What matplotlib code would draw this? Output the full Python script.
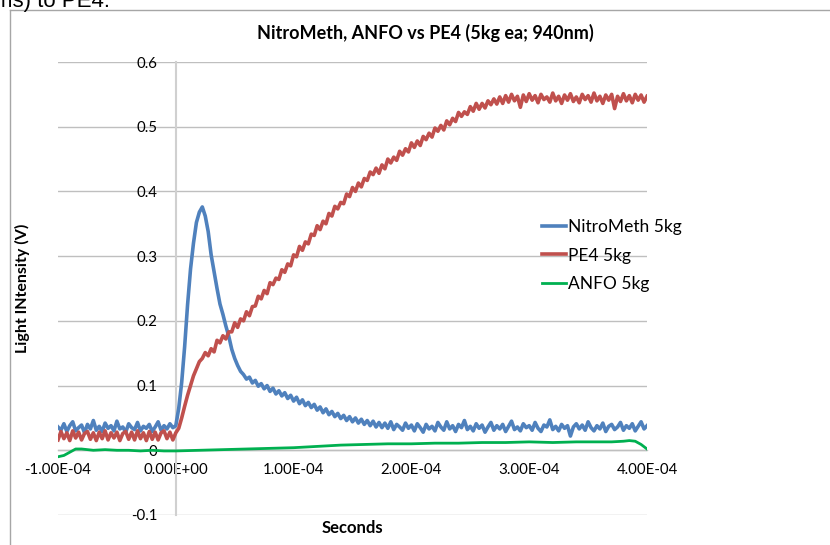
import numpy as np
import matplotlib
matplotlib.use('Agg')
import matplotlib.pyplot as plt
from matplotlib.lines import Line2D
from matplotlib.ticker import FuncFormatter

plt.rcParams['font.family'] = ['Lato', 'DejaVu Sans']

# sample grid of the two fast traces (2.5 us steps)
t_fast = np.linspace(-1e-4, 4e-4, 201)

nitro = [
    0.036, 0.031, 0.041, 0.029, 0.038, 0.044, 0.030, 0.035, 0.039, 0.027,
    0.040, 0.033, 0.046, 0.031, 0.037, 0.029, 0.042, 0.034, 0.038, 0.030,
    0.045, 0.033, 0.036, 0.028, 0.041, 0.035, 0.032, 0.043, 0.030, 0.037,
    0.034, 0.040, 0.029, 0.036, 0.044, 0.031, 0.038, 0.033, 0.041, 0.035,
    0.038,
    0.065, 0.105, 0.160, 0.225, 0.280, 0.320, 0.352, 0.368, 0.376,
    0.362, 0.338, 0.302, 0.276, 0.250, 0.226, 0.210, 0.192, 0.176, 0.156,
    0.142, 0.131, 0.122, 0.117, 0.110, 0.113, 0.104, 0.108, 0.099, 0.103,
    0.095, 0.100, 0.091, 0.096, 0.087, 0.092, 0.084, 0.089, 0.080, 0.085,
    0.076, 0.082, 0.072, 0.078, 0.069, 0.074, 0.066, 0.071, 0.062, 0.067,
    0.058, 0.064, 0.055, 0.060, 0.052, 0.057, 0.049, 0.054, 0.046, 0.052,
    0.044, 0.050, 0.042, 0.048, 0.040, 0.046, 0.038, 0.045, 0.036, 0.043,
    0.035, 0.042, 0.034, 0.044, 0.032, 0.040, 0.036, 0.031, 0.042, 0.034,
    0.039, 0.030, 0.041, 0.035, 0.028, 0.040, 0.033, 0.037, 0.030, 0.043,
    0.036, 0.031, 0.044, 0.033, 0.038, 0.029, 0.040, 0.035, 0.046, 0.032,
    0.037, 0.030, 0.041, 0.034, 0.039, 0.028, 0.036, 0.043, 0.031, 0.038,
    0.033, 0.040, 0.029, 0.037, 0.045, 0.032, 0.036, 0.030, 0.041, 0.035,
    0.038, 0.031, 0.043, 0.034, 0.029, 0.039, 0.036, 0.047, 0.032, 0.037,
    0.030, 0.040, 0.034, 0.038, 0.022, 0.036, 0.041, 0.033, 0.039, 0.031,
    0.044, 0.035, 0.030, 0.038, 0.033, 0.042, 0.029, 0.037, 0.040, 0.032,
    0.036, 0.043, 0.031, 0.038, 0.034, 0.041, 0.030, 0.037, 0.044, 0.033,
    0.038,
]

pe4 = [
    0.016, 0.029, 0.018, 0.027, 0.015, 0.030, 0.019, 0.028, 0.016, 0.026,
    0.029, 0.017, 0.027, 0.015, 0.028, 0.018, 0.030, 0.016, 0.027, 0.019,
    0.028, 0.015, 0.026, 0.029, 0.017, 0.028, 0.016, 0.030, 0.018, 0.027,
    0.015, 0.029, 0.017, 0.028, 0.016, 0.027, 0.030, 0.018, 0.028, 0.016,
    0.027,
    0.034, 0.050, 0.068, 0.085, 0.100, 0.115, 0.126, 0.137, 0.142,
    0.151, 0.146, 0.157, 0.152, 0.170, 0.166, 0.177, 0.172, 0.183, 0.183,
    0.197, 0.190, 0.203, 0.200, 0.214, 0.208, 0.222, 0.223, 0.238, 0.234,
    0.247, 0.242, 0.259, 0.256, 0.266, 0.264, 0.279, 0.275, 0.288, 0.285,
    0.302, 0.299, 0.315, 0.309, 0.322, 0.319, 0.334, 0.332, 0.347, 0.341,
    0.354, 0.350, 0.366, 0.362, 0.377, 0.373, 0.383, 0.381, 0.396, 0.392,
    0.406, 0.400, 0.413, 0.407, 0.420, 0.417, 0.430, 0.426, 0.436, 0.428,
    0.441, 0.435, 0.450, 0.444, 0.453, 0.448, 0.462, 0.456, 0.466, 0.461,
    0.475, 0.468, 0.478, 0.471, 0.485, 0.480, 0.490, 0.484, 0.498, 0.493,
    0.502, 0.495, 0.509, 0.503, 0.513, 0.508, 0.522, 0.516, 0.523, 0.519,
    0.531, 0.524, 0.536, 0.527, 0.536, 0.529, 0.540, 0.534, 0.543, 0.535,
    0.546, 0.536, 0.548, 0.538, 0.550, 0.540, 0.547, 0.530, 0.549, 0.539,
    0.551, 0.541, 0.548, 0.537, 0.550, 0.542, 0.546, 0.538, 0.552, 0.540,
    0.547, 0.536, 0.549, 0.541, 0.551, 0.539, 0.546, 0.537, 0.550, 0.542,
    0.548, 0.538, 0.552, 0.540, 0.547, 0.536, 0.549, 0.541, 0.550, 0.528,
    0.547, 0.539, 0.551, 0.540, 0.548, 0.537, 0.550, 0.541, 0.549, 0.538,
    0.547,
]

# ANFO is smooth, sparser samples
t_anfo = [-1.0e-4, -9.5e-5, -9.0e-5, -8.5e-5, -8.0e-5, -7.0e-5, -6.0e-5, -5.0e-5,
          -4.0e-5, -3.0e-5, -2.0e-5, -1.0e-5, 0.0, 2.0e-5, 4.0e-5, 6.0e-5, 8.0e-5,
          1.0e-4, 1.2e-4, 1.4e-4, 1.6e-4, 1.8e-4, 2.0e-4, 2.2e-4, 2.4e-4, 2.6e-4,
          2.8e-4, 3.0e-4, 3.2e-4, 3.4e-4, 3.6e-4, 3.7e-4, 3.8e-4, 3.85e-4, 3.9e-4,
          3.95e-4, 4.0e-4]
anfo = [-0.010, -0.008, -0.003, 0.002, 0.002, 0.000, 0.001, 0.000,
        0.000, -0.001, 0.000, -0.001, -0.001, 0.000, 0.001, 0.002, 0.003,
        0.004, 0.006, 0.008, 0.009, 0.010, 0.010, 0.011, 0.011, 0.012,
        0.012, 0.013, 0.012, 0.013, 0.013, 0.013, 0.014, 0.015, 0.014,
        0.009, 0.002]

x_ticks = [-1e-4, 0, 1e-4, 2e-4, 3e-4, 4e-4]
y_ticks = [-0.1, 0, 0.1, 0.2, 0.3, 0.4, 0.5, 0.6]

fig = plt.figure(figsize=(8.3, 5.45), dpi=100)
ax = fig.add_axes([58 / 830, 1 - 515 / 545, 589 / 830, 453 / 545])

ax.plot(t_fast, nitro, color='#4f81bd', lw=2.6, label='NitroMeth 5kg', zorder=3)
ax.plot(t_fast, pe4, color='#c0504d', lw=2.6, label='PE4 5kg', zorder=3)
ax.plot(t_anfo, anfo, color='#00b050', lw=2.0, label='ANFO 5kg', zorder=3)

ax.set_xlim(-1e-4, 4e-4)
ax.set_ylim(-0.1, 0.6)
ax.set_xticks(x_ticks)
ax.set_yticks(y_ticks)
ax.xaxis.set_major_formatter(FuncFormatter(lambda v, p: f'{v:.2E}'.replace('-0.00', '0.00')))
ax.yaxis.set_major_formatter(FuncFormatter(lambda v, p: '0' if abs(v) < 1e-9 else f'{v:g}'))

ax.spines['top'].set_visible(False)
ax.spines['right'].set_visible(False)
ax.spines['left'].set_position(('data', 0))
ax.spines['bottom'].set_position(('data', 0))
ax.spines['left'].set_color('#d0d0d0')
ax.spines['left'].set_linewidth(1.5)
ax.spines['bottom'].set_color('#bfbfbf')
ax.spines['bottom'].set_linewidth(1.0)
ax.tick_params(axis='both', length=0, labelsize=10.8, colors='black')
ax.tick_params(axis='y', pad=13)
ax.tick_params(axis='x', pad=9)
ax.yaxis.grid(True, color='#bfbfbf', lw=1.0)
ax.set_axisbelow(True)

fig.text(425 / 830, 1 - 33 / 545, 'NitroMeth, ANFO vs PE4 (5kg ea; 940nm)',
         ha='center', va='center', fontsize=13, fontweight='bold')
fig.text(22 / 830, 1 - 288 / 545, 'Light INtensity (V)', rotation=90,
         ha='center', va='center', fontsize=11.5, fontweight='bold')
fig.text(352 / 830, 1 - 528 / 545, 'Seconds', ha='center', va='center',
         fontsize=12, fontweight='bold')

# surrounding document text, cut off at the top
fig.text(-6 / 830, 1 - 7 / 545, 'ms) to PE4.', ha='left', va='baseline',
         fontsize=16, family='Liberation Sans')

# chart area border (only left and top edges are in the crop)
fig.add_artist(Line2D([10 / 830, 10 / 830], [0, 1 - 10 / 545], color='#a6a6a6', lw=1.0))
fig.add_artist(Line2D([10 / 830, 1], [1 - 10 / 545, 1 - 10 / 545], color='#a6a6a6', lw=1.0))

ax.legend(loc='upper left', bbox_to_anchor=(542 / 830, 1 - 219 / 545),
          bbox_transform=fig.transFigure, frameon=False, fontsize=12.5,
          handlelength=1.4, handletextpad=0.1, labelspacing=0.72,
          borderaxespad=0, borderpad=0)

fig.savefig('out.png', dpi=100)
